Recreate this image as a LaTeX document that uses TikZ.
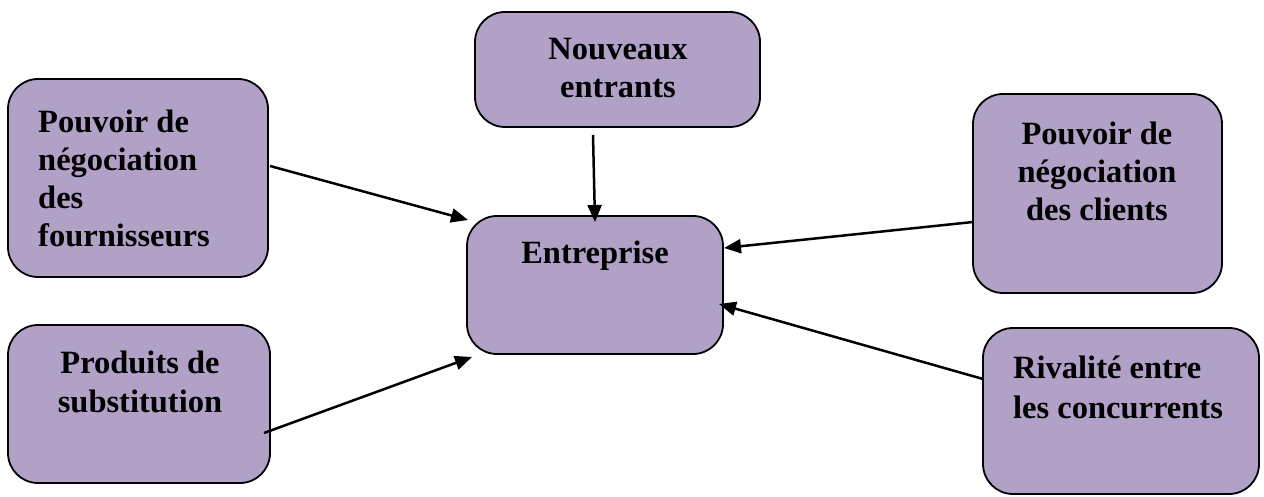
\documentclass[tikz,border=0pt]{standalone}
\usepackage{fontspec}
\setmainfont{Liberation Serif}
\usetikzlibrary{arrows.meta}
\definecolor{boxfill}{HTML}{B2A1C7}
\begin{document}
\begin{tikzpicture}[x=1pt,y=-1pt,
  force/.style={draw=black,line width=1.8pt,fill=boxfill,rounded corners=30pt,
    inner sep=0pt,outer sep=0pt},
  txt/.style={inner sep=0pt,font=\fontsize{32.5}{39}\selectfont\bfseries},
  push/.style={line width=2.5pt,-{Triangle[length=17pt,width=14pt]}}]
\useasboundingbox (0,0) rectangle (1264,497);

% the six forces
\node[force,minimum width=260pt,minimum height=198pt] (sup) at (138,178) {};
\node[force,minimum width=285pt,minimum height=115pt] (new) at (617.5,69.5) {};
\node[force,minimum width=249pt,minimum height=199pt] (cli) at (1097.5,193.5) {};
\node[force,minimum width=256pt,minimum height=138pt] (ent) at (595,285) {};
\node[force,minimum width=262pt,minimum height=158pt] (sub) at (139,404) {};
\node[force,minimum width=276pt,minimum height=166pt] (riv) at (1121,411) {};

% labels, one line per node
\node[txt,anchor=base west] (sup1) at (38,133) {Pouvoir de};
\node[txt,anchor=base west] (sup2) at (38,171) {négociation};
\node[txt,anchor=base west] (sup3) at (38,209) {des};
\node[txt,anchor=base west] (sup4) at (38,247) {fournisseurs};

\node[txt,anchor=base] (new1) at (618,60) {Nouveaux};
\node[txt,anchor=base] (new2) at (618,98) {entrants};

\node[txt,anchor=base] (cli1) at (1097,145) {Pouvoir de};
\node[txt,anchor=base] (cli2) at (1097,183) {négociation};
\node[txt,anchor=base] (cli3) at (1097,221) {des clients};

\node[txt,anchor=base] (ent1) at (595,263) {Entreprise};

\node[txt,anchor=base] (sub1) at (140,373) {Produits de};
\node[txt,anchor=base] (sub2) at (140,412) {substitution};

\node[txt,anchor=base west] (riv1) at (1013,378) {Rivalité entre};
\node[txt,anchor=base west] (riv2) at (1013,418) {les concurrents};

% arrow end points on the box borders
\coordinate (supOut) at (270,166);
\coordinate (entA) at (468,220);
\coordinate (newOut) at (593,135);
\coordinate (entB) at (595,222);
\coordinate (cliOut) at (973,222);
\coordinate (entC) at (724,248);
\coordinate (rivOut) at (983,379);
\coordinate (entD) at (719,304);
\coordinate (subOut) at (264,433);
\coordinate (entE) at (472,357);

\draw[push] (supOut) -- (entA);
\draw[push] (newOut) -- (entB);
\draw[push] (cliOut) -- (entC);
\draw[push] (rivOut) -- (entD);
\draw[push] (subOut) -- (entE);
\end{tikzpicture}
\end{document}
